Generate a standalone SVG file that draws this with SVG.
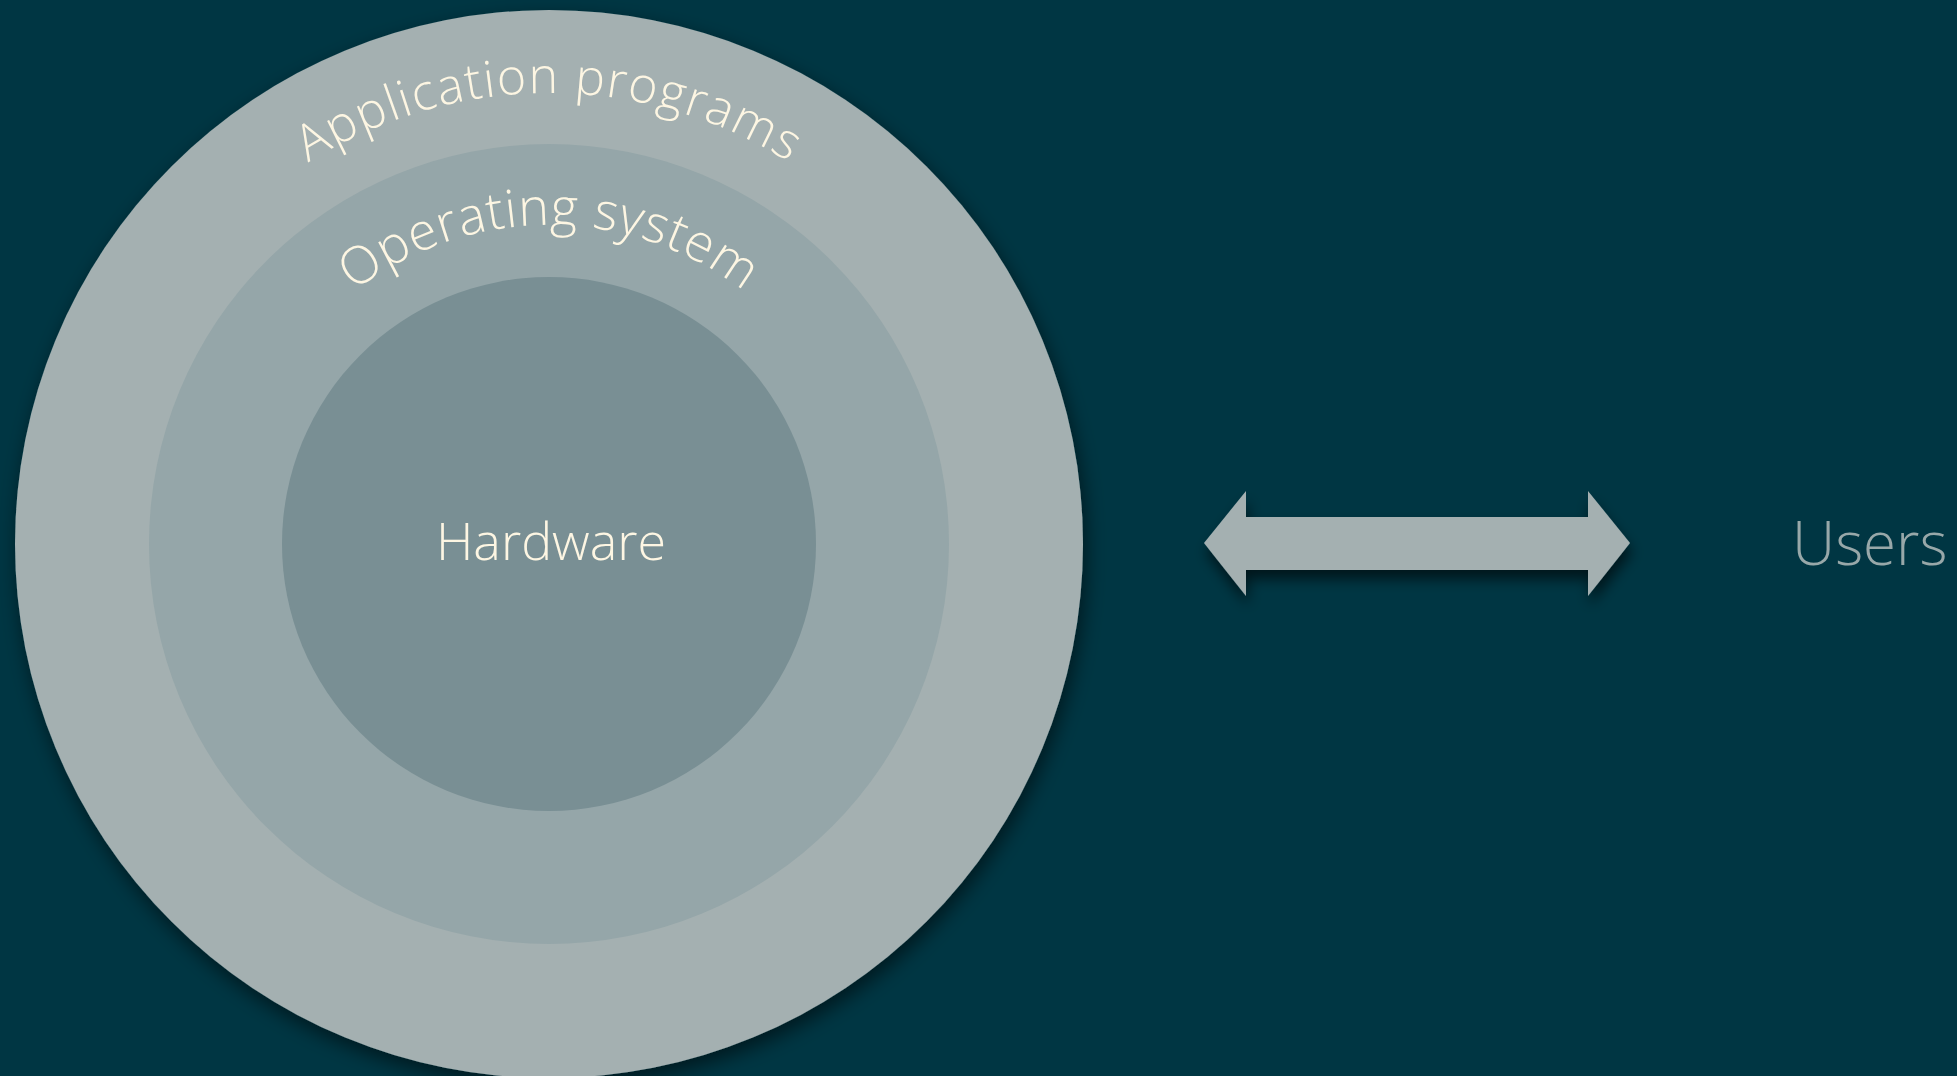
<svg xmlns="http://www.w3.org/2000/svg" width="1957" height="1076" viewBox="0 0 1957 1076">
  <defs>
    <filter id="shadow" x="-20%" y="-20%" width="140%" height="150%">
      <feDropShadow dx="3" dy="8" stdDeviation="10" flood-color="#000000" flood-opacity="0.55"/>
    </filter>
    <filter id="arrowShadow" x="-10%" y="-40%" width="120%" height="200%">
      <feDropShadow dx="2" dy="9" stdDeviation="7" flood-color="#000000" flood-opacity="0.6"/>
    </filter>
    <!-- baseline arcs for the ring captions, upper half, left to right -->
    <path id="arcApp" d="M 98 544 A 451 451 0 0 1 1000 544"/>
    <path id="arcOs" d="M 230 544 A 319 319 0 0 1 868 544"/>
  </defs>
  <style>
    .label { font-family: "Open Sans", "Liberation Sans", sans-serif; font-weight: 300; fill: #fdf6e3; }
    .ring-outer { fill: #a4b0b1; }
    .ring-mid { fill: #95a6a9; }
    .ring-inner { fill: #798f94; }
    .users { font-family: "Open Sans", "Liberation Sans", sans-serif; font-weight: 300; fill: #98a8a9; }
  </style>

  <rect width="1957" height="1076" fill="#003643"/>

  <g id="node-application">
    <circle class="ring-outer" cx="549" cy="544" r="534" filter="url(#shadow)"/>
    <text class="label" font-size="50" letter-spacing="1.4">
      <textPath href="#arcApp" startOffset="50%" text-anchor="middle">Application programs</textPath>
    </text>
  </g>

  <g id="node-os">
    <circle class="ring-mid" cx="549" cy="544" r="400"/>
    <text class="label" font-size="52" letter-spacing="0.5">
      <textPath href="#arcOs" startOffset="50%" text-anchor="middle">Operating system</textPath>
    </text>
  </g>

  <g id="node-hardware">
    <circle class="ring-inner" cx="549" cy="544" r="267"/>
    <text class="label" x="551" y="560" font-size="52" text-anchor="middle">Hardware</text>
  </g>

  <g id="connectors">
    <polygon fill="#a4b0b1" filter="url(#arrowShadow)"
      points="1204,543 1246,491 1246,517 1588,517 1588,491 1630,543 1588,596 1588,570 1246,570 1246,596"/>
  </g>

  <g id="node-users">
    <text class="users" x="1792" y="565" font-size="60">Users</text>
  </g>
</svg>
